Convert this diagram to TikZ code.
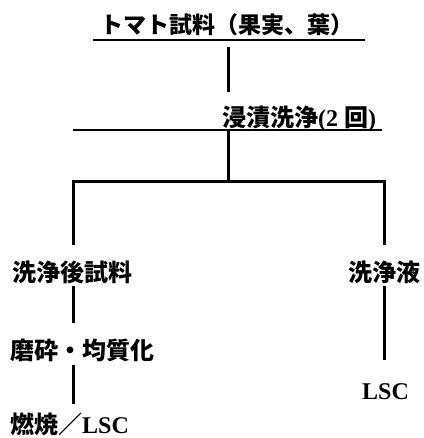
\documentclass[tikz,border=0pt]{standalone}
\usepackage{fontspec}
\setmainfont{Liberation Serif}
\newfontfamily\jp{Noto Sans CJK JP}
\begin{document}
\begin{tikzpicture}
	[x=1pt,y=-1pt,
	every node/.style={inner sep=0pt,anchor=west,text height=21pt,text depth=3pt,
		font=\fontsize{24}{28}\selectfont\bfseries},
	link/.style={line width=3pt},
	rule/.style={line width=2.6pt}]
	\useasboundingbox (0,0) rectangle (423,438);
	\node (sample) at (100,25) {\fontsize{23}{28}\selectfont\jp トマト試料（果実、葉）};
	\node (soak) at (222,118) {{\jp 浸漬洗浄}(2 {\jp 回})};
	\node (washed) at (12,272) {\jp 洗浄後試料};
	\node (liquid) at (348,272) {\jp 洗浄液};
	\node (grind) at (10,350) {\jp 磨砕・均質化};
	\node (burn) at (10,424) {{\jp 燃焼／}LSC};
	\node (lsc) at (362,390) {LSC};
	\coordinate (trunk) at (228,182);
	\coordinate (left) at (73,182);
	\coordinate (right) at (384,182);
	% underlines
	\draw[rule] (93,40) -- (365,40);
	\draw[rule] (73,130) -- (382,130);
	% flow
	\draw[link,shorten <=10pt,shorten >=14pt] (sample.south -| trunk) -- (soak.north -| trunk);
	\draw[link] (soak.south -| trunk) -- (trunk);
	\draw[link,shorten <=15pt,shorten >=15pt] (washed.north -| left) -- (left) -- (right) -- (right |- liquid.north);
	\draw[link,shorten <=2pt,shorten >=15pt] (washed.south -| left) -- (grind.north -| left);
	\draw[link,shorten <=3pt,shorten >=8pt] (grind.south -| left) -- (burn.north -| left);
	\draw[link,shorten <=2pt,shorten >=18pt] (liquid.south -| right) -- (lsc.north -| right);
\end{tikzpicture}
\end{document}
